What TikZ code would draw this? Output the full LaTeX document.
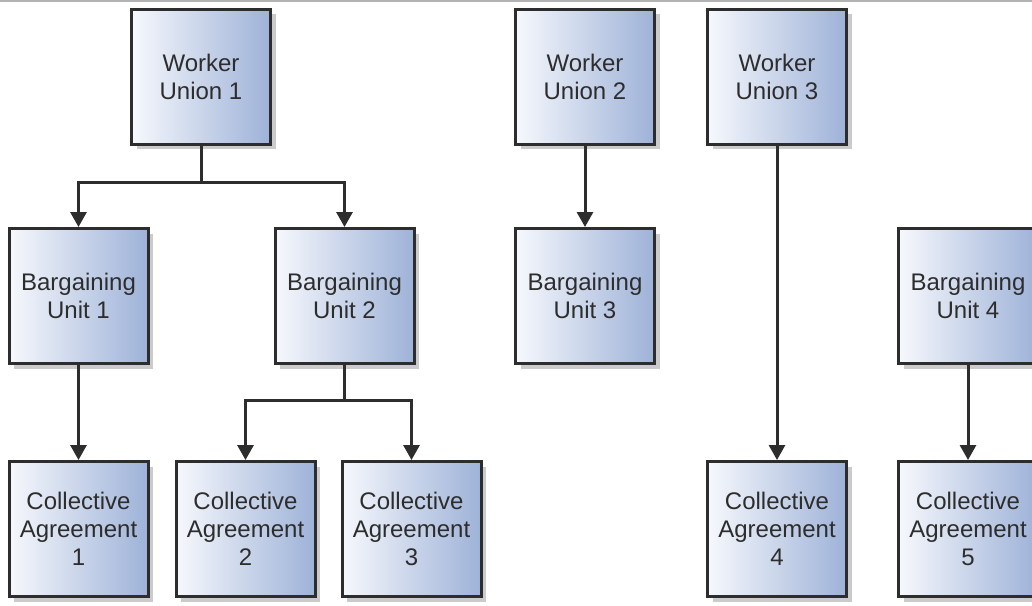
\documentclass[tikz,border=0pt]{standalone}
\usepackage{fontspec}
\setmainfont{Liberation Sans}
\usetikzlibrary{arrows.meta,shadows}
\definecolor{boxL}{RGB}{246,248,252}
\definecolor{boxR}{RGB}{158,178,216}
\definecolor{ink}{RGB}{45,45,45}
\tikzset{
  box/.style={rectangle, draw=ink, line width=3pt, left color=boxL, right color=boxR,
    minimum width=139pt, minimum height=135pt, align=center, text=ink,
    font=\fontsize{24}{28}\selectfont,
    drop shadow={shadow xshift=5pt, shadow yshift=-5pt, fill=black!25, opacity=0.8}},
  conn/.style={draw=ink, line width=3pt},
  arr/.style={conn, -{Triangle[width=16pt,length=15pt]}}
}
\begin{document}
\begin{tikzpicture}[x=1pt,y=-1pt]
\useasboundingbox (0,0) rectangle (1032,605);
\fill[white] (0,0) rectangle (1032,605);
\draw[black!30, line width=2pt] (0,1) -- (1032,1);
\node[box] (wu1) at (201,76.5) {Worker\\Union 1};
\node[box] (wu2) at (585,76.5) {Worker\\Union 2};
\node[box] (wu3) at (777,76.5) {Worker\\Union 3};
\node[box] (bu1) at (78.5,296) {Bargaining\\Unit 1};
\node[box] (bu2) at (344.5,296) {Bargaining\\Unit 2};
\node[box] (bu3) at (585,296) {Bargaining\\Unit 3};
\node[box] (bu4) at (968,296) {Bargaining\\Unit 4};
\node[box] (ca1) at (78.5,529) {Collective\\Agreement\\1};
\node[box] (ca2) at (245.5,529) {Collective\\Agreement\\2};
\node[box] (ca3) at (411.5,529) {Collective\\Agreement\\3};
\node[box] (ca4) at (777,529) {Collective\\Agreement\\4};
\node[box] (ca5) at (968,529) {Collective\\Agreement\\5};
\coordinate (j1) at (201,182);
\coordinate (j2) at (344.5,400);
\draw[conn] (wu1.south) -- (j1);
\draw[arr] (j1) -| (bu1.north);
\draw[arr] (j1) -| (bu2.north);
\draw[conn] (bu2.south) -- (j2);
\draw[arr] (j2) -| (ca2.north);
\draw[arr] (j2) -| (ca3.north);
\draw[arr] (bu1.south) -- (ca1.north);
\draw[arr] (wu2.south) -- (bu3.north);
\draw[arr] (wu3.south) -- (ca4.north);
\draw[arr] (bu4.south) -- (ca5.north);
\end{tikzpicture}
\end{document}
